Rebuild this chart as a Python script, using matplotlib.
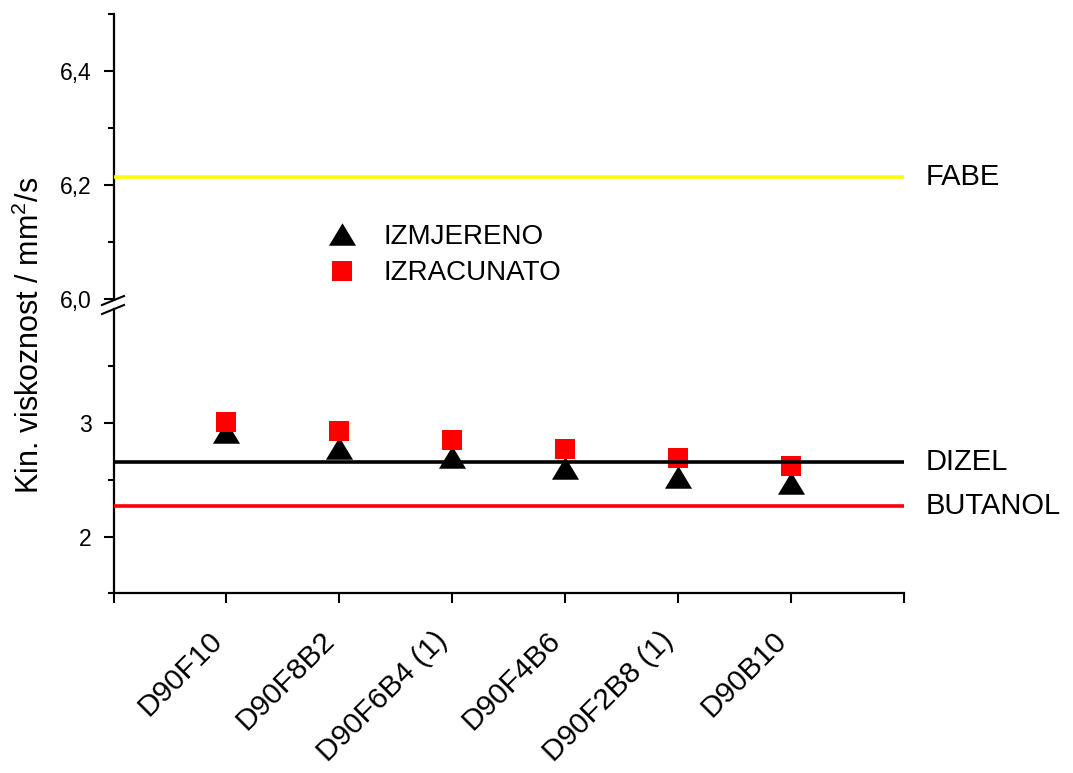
import matplotlib
matplotlib.use('Agg')
import matplotlib.pyplot as plt
import matplotlib.transforms as mtransforms
from matplotlib.lines import Line2D
from matplotlib.ticker import FixedLocator, FuncFormatter

# data
categories = ['D90F10', 'D90F8B2', 'D90F6B4 (1)', 'D90F4B6', 'D90F2B8 (1)', 'D90B10']
izmjereno = [2.92, 2.78, 2.70, 2.60, 2.52, 2.475]
izracunato = [3.01, 2.93, 2.85, 2.775, 2.695, 2.62]
ref_names = ['FABE', 'DIZEL', 'BUTANOL']
ref_values = [6.215, 2.66, 2.27]
ref_colors = ['#ffff00', 'black', '#ff0000']

plt.rcParams['font.family'] = ['Liberation Sans', 'DejaVu Sans']
plt.rcParams['mathtext.fontset'] = 'custom'
plt.rcParams['mathtext.rm'] = 'Liberation Sans'
plt.rcParams['mathtext.default'] = 'regular'

W, H = 1073, 773
fig = plt.figure(figsize=(W / 100, H / 100), dpi=100)


def px_box(left, top, right, bottom):
    return [left / W, 1 - bottom / H, (right - left) / W, (bottom - top) / H]


ax_up = fig.add_axes(px_box(113.5, 14.3, 904, 299.3))
ax_lo = fig.add_axes(px_box(113.5, 309.4, 904, 593.3))

x = list(range(1, len(categories) + 1))
tri = [(-1, -0.83), (1, -0.83), (0, 0.83)]
ax_lo.plot(x, izmjereno, ls='', marker=tri, ms=19.5, color='black', mew=0, zorder=2, clip_on=False)
ax_lo.plot(x, izracunato, ls='', marker='s', ms=14.4, color='#ff0000', mew=0, zorder=3, clip_on=False)

for name, val, col in zip(ref_names, ref_values, ref_colors):
    ax = ax_up if val >= 6.0 else ax_lo
    ax.axhline(val, color=col, lw=2.6, zorder=4)
    tr = mtransforms.blended_transform_factory(fig.transFigure, ax.transData)
    ax.text(926 / W, val, name, transform=tr, va='center', ha='left', fontsize=21, clip_on=False)

for ax in (ax_up, ax_lo):
    ax.set_xlim(0, 7)
    ax.spines['top'].set_visible(False)
    ax.spines['right'].set_visible(False)
    ax.spines['left'].set_linewidth(1.6)
    ax.spines['bottom'].set_linewidth(1.6)
    ax.tick_params(which='major', direction='out', length=7.2, width=1.5, labelsize=16.5, pad=8.5)
    ax.tick_params(which='minor', direction='out', length=4.3, width=1.5)
    ax.patch.set_visible(False)

# upper part of the broken axis
ax_up.set_ylim(6.0, 6.5)
ax_up.spines['bottom'].set_visible(False)
ax_up.tick_params(axis='x', which='both', bottom=False, labelbottom=False)
ax_up.yaxis.set_major_locator(FixedLocator([6.0, 6.2, 6.4]))
ax_up.yaxis.set_minor_locator(FixedLocator([6.1, 6.3, 6.5]))
ax_up.yaxis.set_major_formatter(FuncFormatter(lambda v, p: f'{v:.1f}'.replace('.', ',')))

# lower part
ax_lo.set_ylim(1.5, 4.0)
ax_lo.yaxis.set_major_locator(FixedLocator([2, 3]))
ax_lo.yaxis.set_minor_locator(FixedLocator([1.5, 2.5, 3.5]))
ax_lo.yaxis.set_major_formatter(FuncFormatter(lambda v, p: f'{v:g}'))
ax_lo.set_xticks(range(0, 8))
ax_lo.set_xticklabels([''] + categories + [''], fontsize=21.5)
ax_lo.tick_params(axis='x', pad=24)
offset = mtransforms.ScaledTranslation(-9 / 100, 0, fig.dpi_scale_trans)
for lbl in ax_lo.get_xticklabels():
    lbl.set_rotation(45)
    lbl.set_ha('right')
    lbl.set_va('center')
    lbl.set_rotation_mode('anchor')
    lbl.set_transform(lbl.get_transform() + offset)

# break marks on the y axis
for top_y in (296, 305):
    fig.add_artist(Line2D([102 / W, 124 / W], [1 - (top_y + 9) / H, 1 - top_y / H],
                          transform=fig.transFigure, color='black', lw=1.5))

fig.text(30 / W, 1 - 335 / H, 'Kin. viskoznost / mm$^2$/s', rotation=90,
         va='center', ha='center', fontsize=22)

handles = [
    Line2D([], [], ls='', marker=tri, ms=19.5, color='black', mew=0, label='IZMJERENO'),
    Line2D([], [], ls='', marker='s', ms=14.4, color='#ff0000', mew=0, label='IZRACUNATO'),
]
ax_up.legend(handles=handles, loc='center left', bbox_to_anchor=(303 / W, 1 - 255 / H),
             bbox_transform=fig.transFigure, frameon=False, fontsize=20,
             handlelength=1.0, handletextpad=0.98, labelspacing=0.38, borderpad=0.4)

fig.savefig('out.png', dpi=100)
